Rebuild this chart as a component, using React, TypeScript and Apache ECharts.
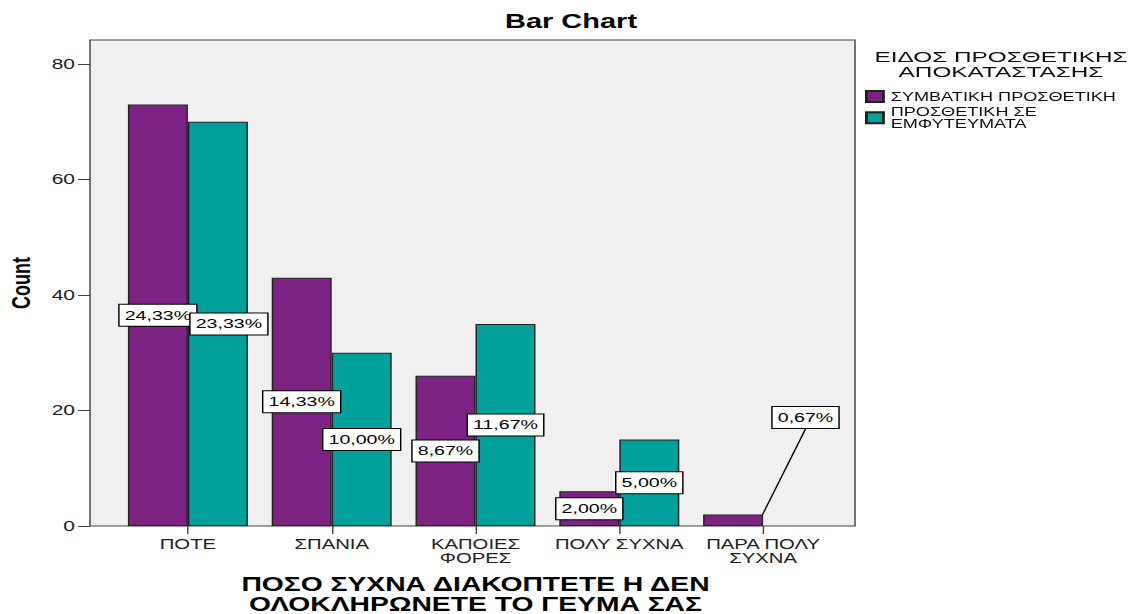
import React, { useEffect, useRef } from "react";
import * as echarts from "echarts";

// Response categories (x axis) and their two-line tick labels
const categories = ["ΠΟΤΕ", "ΣΠΑΝΙΑ", "ΚΑΠΟΙΕΣ ΦΟΡΕΣ", "ΠΟΛΥ ΣΥΧΝΑ", "ΠΑΡΑ ΠΟΛΥ ΣΥΧΝΑ"];
const tickLabels = ["ΠΟΤΕ", "ΣΠΑΝΙΑ", "ΚΑΠΟΙΕΣ\nΦΟΡΕΣ", "ΠΟΛΥ ΣΥΧΝΑ", "ΠΑΡΑ ΠΟΛΥ\nΣΥΧΝΑ"];

// Groups (legend) and their counts per category
const seriesNames = ["ΣΥΜΒΑΤΙΚΗ ΠΡΟΣΘΕΤΙΚΗ", "ΠΡΟΣΘΕΤΙΚΗ ΣΕ ΕΜΦΥΤΕΥΜΑΤΑ"];
const legendLabels = ["ΣΥΜΒΑΤΙΚΗ ΠΡΟΣΘΕΤΙΚΗ", "ΠΡΟΣΘΕΤΙΚΗ ΣΕ\nΕΜΦΥΤΕΥΜΑΤΑ"];
const conventionalCounts = [73, 43, 26, 6, 2];
const implantCounts = [70, 30, 35, 15, 0];

const yTicks = [0, 20, 40, 60, 80];

const chartTitle = "Bar Chart";
const yAxisTitle = "Count";
const xAxisTitle = "ΠΟΣΟ ΣΥΧΝΑ ΔΙΑΚΟΠΤΕΤΕ Η ΔΕΝ\nΟΛΟΚΛΗΡΩΝΕΤΕ ΤΟ ΓΕΥΜΑ ΣΑΣ";
const legendTitle = "ΕΙΔΟΣ ΠΡΟΣΘΕΤΙΚΗΣ\nΑΠΟΚΑΤΑΣΤΑΣΗΣ";

const colors = ["#7b2282", "#00a19b"];

// The chart is drawn narrower and widened with a horizontal stretch
const S = 1.45;
const W = 1129 / S;
const H = 614;
const px = (x: number) => x / S;

const FONT = "'Liberation Sans', Arial, Helvetica, sans-serif";

const total = [...conventionalCounts, ...implantCounts].reduce((a, b) => a + b, 0);
const pct = (v: number) => ((v / total) * 100).toFixed(2).replace(".", ",") + "%";

export default function App() {
  const ref = useRef<HTMLDivElement>(null);

  useEffect(() => {
    if (!ref.current) return;
    const chart = echarts.init(ref.current, null, { renderer: "svg", width: W, height: H });

    const labelStyle = {
      show: true,
      position: "inside",
      formatter: (p: any) => pct(p.value),
      color: "#000",
      fontSize: 13.5,
      fontFamily: FONT,
      backgroundColor: "#fff",
      borderColor: "#000",
      borderWidth: 1,
      padding: [3, 3.5, 3, 3.5],
      lineHeight: 15,
    };

    const makeData = (vals: number[], seriesIdx: number) =>
      vals.map((v, i) => {
        if (v === 0) return { value: v, label: { show: false }, itemStyle: { borderWidth: 0 } };
        if (seriesIdx === 0 && i === vals.length - 1)
          return { value: v, labelLine: { show: true, lineStyle: { color: "#000", width: 1 } } };
        return { value: v };
      });

    // The smallest bar's label sits up and to the right with a leader line;
    // the first implant label is nudged right so it clears its neighbour.
    const layouts = [
      (p: any) =>
        p.dataIndex === conventionalCounts.length - 1
          ? { x: px(805.5), y: 417.5, align: "center", verticalAlign: "middle" }
          : {},
      (p: any) => (p.dataIndex === 0 ? { dx: px(11) } : {}),
    ];

    const option: any = {
      animation: false,
      backgroundColor: "#fff",
      title: {
        text: chartTitle,
        left: px(571),
        textAlign: "center",
        top: 11,
        padding: 0,
        textStyle: { fontSize: 20, fontWeight: "bold", color: "#000", fontFamily: FONT },
      },
      grid: {
        left: px(116),
        right: W - px(835),
        top: 64,
        bottom: 88,
        containLabel: false,
        outerBoundsMode: "none",
      },
      legend: {
        orient: "vertical",
        left: px(865),
        top: 90,
        padding: 0,
        itemWidth: px(17),
        itemHeight: 11,
        itemGap: 2,
        icon: "rect",
        data: seriesNames,
        formatter: (name: string) => legendLabels[seriesNames.indexOf(name)],
        textStyle: { fontSize: 12.5, lineHeight: 12.5, color: "#111", fontFamily: FONT },
      },
      xAxis: {
        type: "category",
        data: tickLabels,
        name: xAxisTitle,
        nameLocation: "middle",
        nameGap: 48,
        nameTextStyle: { fontSize: 19.5, fontWeight: "bold", color: "#000", lineHeight: 20, fontFamily: FONT },
        axisLine: { show: false },
        axisTick: { show: true, alignWithLabel: true, length: 8, lineStyle: { color: "#444" } },
        axisLabel: { interval: 0, fontSize: 14, lineHeight: 14, margin: 11, color: "#222", fontFamily: FONT },
        splitLine: { show: false },
      },
      yAxis: {
        type: "value",
        min: yTicks[0],
        max: yTicks[yTicks.length - 1],
        interval: yTicks[1] - yTicks[0],
        offset: px(26),
        axisLine: { show: false },
        axisTick: { show: true, length: px(12), lineStyle: { color: "#444" } },
        axisLabel: { fontSize: 14.5, margin: px(15), color: "#222", fontFamily: FONT },
        splitLine: { show: false },
      },
      graphic: [
        {
          type: "rect",
          z: 0,
          silent: true,
          shape: { x: px(90), y: 40, width: px(855) - px(90), height: 486 },
          style: { fill: "#f0f0f0", stroke: "#444", lineWidth: 1 },
        },
        {
          type: "text",
          z: 10,
          x: 14.5,
          y: 283,
          rotation: Math.PI / 2,
          style: {
            text: yAxisTitle,
            fontSize: 18,
            fontWeight: "bold",
            fill: "#000",
            fontFamily: FONT,
            align: "center",
            verticalAlign: "middle",
          },
        },
        {
          type: "text",
          z: 10,
          x: px(1001),
          y: 49,
          scaleX: 1.12,
          style: {
            text: legendTitle,
            fontSize: 15,
            lineHeight: 15,
            fill: "#111",
            fontFamily: FONT,
            align: "center",
            verticalAlign: "top",
          },
        },
      ],
      series: [conventionalCounts, implantCounts].map((vals, si) => ({
        name: seriesNames[si],
        type: "bar",
        data: makeData(vals, si),
        barWidth: px(60),
        barGap: "0%",
        itemStyle: { color: colors[si], borderColor: "#222", borderWidth: 1 },
        label: labelStyle,
        labelLayout: layouts[si],
      })),
    };

    chart.setOption(option);
    return () => chart.dispose();
  }, []);

  return (
    <div
      ref={ref}
      style={{
        position: "fixed",
        left: 0,
        top: 0,
        width: W,
        height: H,
        transform: `scaleX(${S})`,
        transformOrigin: "0 0",
      }}
    />
  );
}
